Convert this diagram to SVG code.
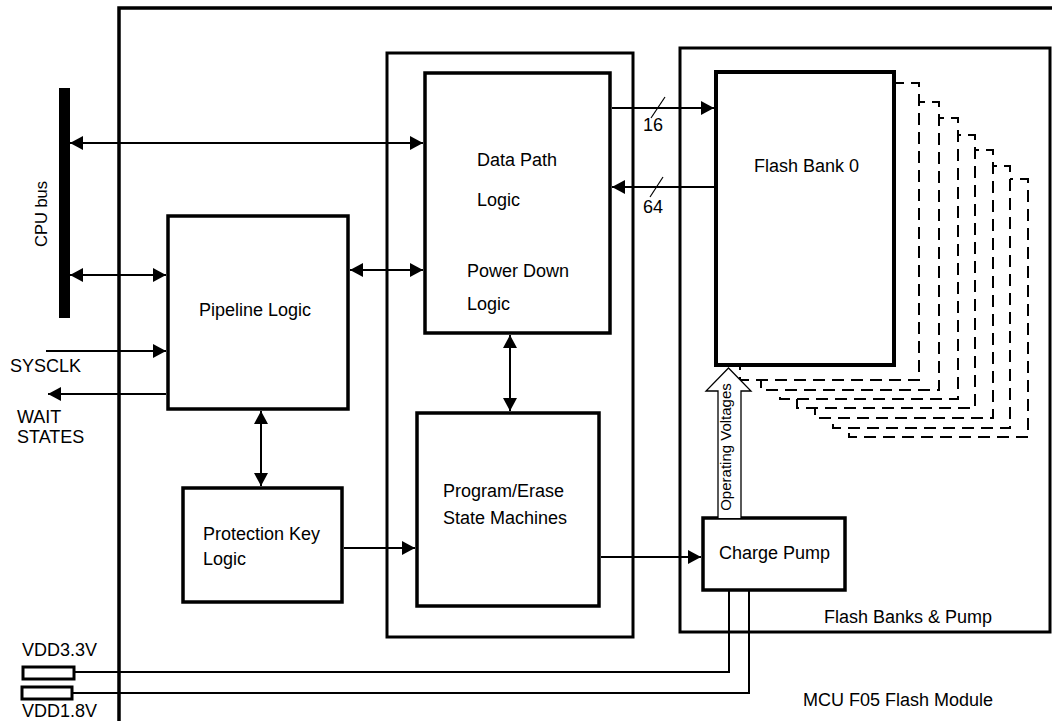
<svg xmlns="http://www.w3.org/2000/svg" width="1052" height="721" viewBox="0 0 1052 721">
<style>
text{font-family:"Liberation Sans",Arial,sans-serif;font-size:18px;fill:#000}
.box{fill:#fff;stroke:#000;stroke-width:3.5}
.cont{fill:none;stroke:#000;stroke-width:3}
.dash{fill:#fff;stroke:#000;stroke-width:2;stroke-dasharray:12 7}
.ln{fill:none;stroke:#000;stroke-width:2}
.arr{marker-end:url(#ah)}
.bi{marker-start:url(#ah);marker-end:url(#ah)}
</style>
<defs>
<marker id="ah" markerUnits="userSpaceOnUse" markerWidth="13" markerHeight="14" refX="13" refY="7" orient="auto-start-reverse" viewBox="0 0 13 14">
<path d="M0,0 L13,7 L0,14 z" fill="#000"/>
</marker>
</defs>
<rect width="1052" height="721" fill="#fff"/>

<g id="module">
<path class="cont" d="M119,721 V8 H1052" style="stroke-width:3.5"/>
<text x="803" y="706">MCU F05 Flash Module</text>
</g>

<g id="logic-container">
<rect class="cont" x="387" y="53" width="246" height="584"/>
</g>

<g id="flash-banks-pump">
<rect class="cont" x="680" y="48" width="370" height="584"/>
<text x="824" y="623">Flash Banks &amp; Pump</text>
</g>

<g id="cpu-bus">
<rect x="59" y="88" width="11" height="230" fill="#000"/>
<text transform="translate(46.5,214) rotate(-90)" text-anchor="middle" style="font-size:16.5px">CPU bus</text>
</g>

<g id="flash-bank-stack">
<rect class="dash" x="849" y="179" width="179" height="258"/>
<rect class="dash" x="833" y="166" width="177" height="262"/>
<rect class="dash" x="815" y="150" width="178" height="268"/>
<rect class="dash" x="797" y="135" width="178" height="273"/>
<rect class="dash" x="780" y="118" width="178" height="281"/>
<rect class="dash" x="761" y="102" width="178" height="288"/>
<rect class="dash" x="740" y="83" width="179" height="297"/>
</g>

<g id="flash-bank-0">
<rect class="box" x="716" y="72" width="178" height="293" style="stroke-width:4"/>
<text x="754" y="172">Flash Bank 0</text>
</g>

<g id="data-path">
<rect class="box" x="425" y="73" width="185" height="260"/>
<text x="477" y="166">Data Path</text>
<text x="477" y="206">Logic</text>
<text x="467" y="277">Power Down</text>
<text x="467" y="310">Logic</text>
</g>

<g id="pipeline">
<rect class="box" x="168" y="216" width="180" height="193"/>
<text x="199" y="316">Pipeline Logic</text>
</g>

<g id="protection-key">
<rect class="box" x="183" y="488" width="159" height="114"/>
<text x="203" y="540">Protection Key</text>
<text x="203" y="565">Logic</text>
</g>

<g id="program-erase">
<rect class="box" x="417" y="413" width="182" height="193"/>
<text x="443" y="497">Program/Erase</text>
<text x="443" y="524">State Machines</text>
</g>

<g id="charge-pump">
<rect class="box" x="703" y="518" width="142" height="72"/>
<text x="719" y="559">Charge Pump</text>
</g>

<g id="vdd33">
<rect x="23" y="667" width="51" height="12" fill="#fff" stroke="#000" stroke-width="3"/>
<text x="22" y="656">VDD3.3V</text>
</g>

<g id="vdd18">
<rect x="22" y="687" width="50" height="12" fill="#fff" stroke="#000" stroke-width="3"/>
<text x="22" y="717">VDD1.8V</text>
</g>

<g id="labels">
<text x="10" y="372">SYSCLK</text>
<text x="17" y="423">WAIT</text>
<text x="17" y="443">STATES</text>
</g>

<g id="connectors">
<line class="ln bi" x1="70" y1="143" x2="423" y2="143"/>
<line class="ln bi" x1="70" y1="275" x2="166" y2="275"/>
<line class="ln bi" x1="350" y1="270" x2="423" y2="270"/>
<line class="ln arr" x1="46" y1="351" x2="166" y2="351"/>
<line class="ln arr" x1="166" y1="394" x2="48" y2="394"/>
<line class="ln bi" x1="261" y1="411" x2="261" y2="486"/>
<line class="ln bi" x1="510" y1="335" x2="510" y2="411"/>
<line class="ln arr" x1="344" y1="548" x2="415" y2="548"/>
<line class="ln arr" x1="601" y1="557" x2="701" y2="557"/>
<line class="ln arr" x1="612" y1="108" x2="714" y2="108"/>
<line class="ln" x1="651" y1="118" x2="665" y2="97" style="stroke-width:1.2"/>
<text x="643" y="131">16</text>
<line class="ln arr" x1="714" y1="187" x2="612" y2="187"/>
<line class="ln" x1="650" y1="197" x2="663" y2="177" style="stroke-width:1.2"/>
<text x="643" y="213">64</text>
<polyline class="ln" points="74,672 729,672 729,590"/>
<polyline class="ln" points="72,693 749,693 749,590"/>
<g id="operating-voltages">
<path d="M718,518 V391 H706 L728.5,368 L751,391 H741 V518" fill="#fff" stroke="#000" stroke-width="1.3"/>
<text transform="translate(731,447) rotate(-90)" text-anchor="middle" style="font-size:15px">Operating Voltages</text>
</g>
</g>
</svg>
